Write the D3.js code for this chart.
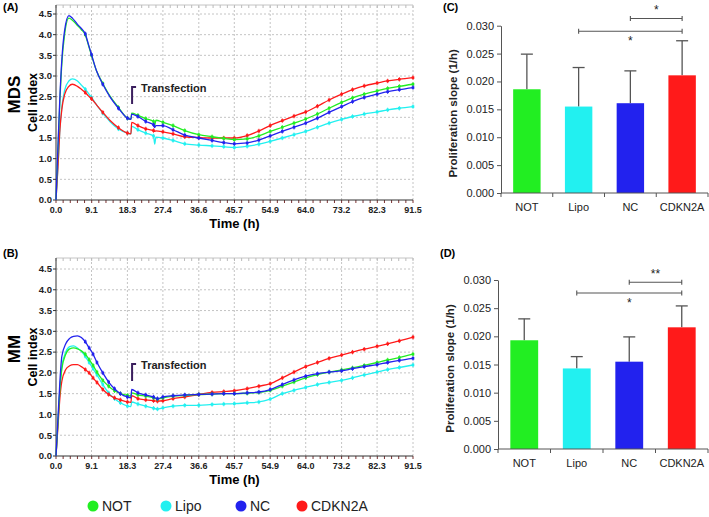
<!DOCTYPE html>
<html><head><meta charset="utf-8">
<script src="https://cdn.jsdelivr.net/npm/d3@7"></script>
<style>body{margin:0;background:#fff}svg{display:block}text{font-family:"Liberation Sans",Arial,sans-serif}</style>
</head><body>
<svg id="c" width="709" height="517"></svg>
<script>
// ---------- DATA ----------
const seriesNames = ["NOT","Lipo","NC","CDKN2A"];
const seriesColors = ["#22ee22","#22f0f0","#2222ee","#ff1a1a"];
const xTickLabels = ["0.0","9.1","18.3","27.4","36.6","45.7","54.9","64.0","73.2","82.3","91.5"];
const yTickLabels = ["0.0","0.5","1.0","1.5","2.0","2.5","3.0","3.5","4.0","4.5"];

// Panel A (MDS) time points (h)
const timeA = [0,0.5,1,1.5,2.2,3.3,4.2,5.5,6.5,7.5,8.3,9.1,10.4,12,13.8,16,18.3,19.2,19.4,21,23,25,25.3,25.6,27.4,30,33,36.6,40,43,45.7,49,52,54.9,58,61,64,67,70,73.2,76,79,82.3,85,88,91.5];
const mdsNOT   = [0,1.2,2.4,3.3,4.0,4.4,4.35,4.22,4.12,4.0,3.75,3.5,3.12,2.82,2.52,2.24,1.98,1.95,2.1,2.05,1.97,1.9,1.8,1.93,1.88,1.8,1.68,1.58,1.53,1.49,1.46,1.48,1.55,1.66,1.76,1.86,1.96,2.08,2.22,2.36,2.47,2.56,2.64,2.7,2.75,2.8];
const mdsLipo  = [0,0.8,1.7,2.25,2.65,2.88,2.93,2.88,2.78,2.68,2.58,2.48,2.3,2.1,1.9,1.72,1.62,1.6,1.78,1.7,1.62,1.55,1.35,1.52,1.5,1.44,1.36,1.33,1.31,1.29,1.27,1.3,1.35,1.42,1.5,1.58,1.66,1.76,1.86,1.95,2.02,2.08,2.13,2.18,2.22,2.26];
const mdsNC    = [0,1.3,2.5,3.4,4.1,4.46,4.4,4.25,4.15,4.02,3.77,3.52,3.12,2.8,2.5,2.22,1.98,1.95,2.08,2.02,1.9,1.82,1.75,1.8,1.8,1.7,1.57,1.5,1.44,1.39,1.36,1.38,1.45,1.55,1.66,1.76,1.86,1.98,2.12,2.26,2.38,2.48,2.56,2.62,2.67,2.72];
const mdsCDKN2A= [0,0.8,1.7,2.2,2.55,2.75,2.8,2.75,2.68,2.6,2.52,2.45,2.3,2.12,1.93,1.75,1.62,1.6,1.88,1.8,1.72,1.68,1.66,1.67,1.65,1.6,1.53,1.51,1.5,1.5,1.5,1.56,1.67,1.8,1.92,2.03,2.13,2.27,2.42,2.56,2.67,2.76,2.83,2.88,2.92,2.96];

// Panel B (MM) time points (h)
const timeB = [0,0.5,1,1.5,2.5,3.5,4.5,5.5,6.5,7.5,8.5,9.5,10.5,12,13.5,15,16.5,18.3,19.2,19.4,21,23,25,26,27.4,30,33,36.6,40,43,45.7,49,52,54.9,58,61,64,67,70,73.2,76,79,82.3,85,88,91.5];
const mmNOT    = [0,0.8,1.6,2.1,2.45,2.58,2.6,2.58,2.53,2.45,2.32,2.18,2.02,1.82,1.68,1.57,1.5,1.46,1.44,1.52,1.47,1.44,1.4,1.37,1.4,1.44,1.46,1.48,1.49,1.5,1.5,1.51,1.53,1.58,1.68,1.78,1.88,1.96,2.02,2.07,2.12,2.18,2.25,2.31,2.37,2.45];
const mmLipo   = [0,0.8,1.6,2.15,2.5,2.63,2.65,2.6,2.52,2.4,2.25,2.1,1.95,1.72,1.52,1.38,1.28,1.2,1.19,1.3,1.25,1.2,1.15,1.13,1.16,1.2,1.22,1.22,1.24,1.25,1.26,1.28,1.3,1.37,1.5,1.58,1.65,1.72,1.77,1.82,1.88,1.95,2.02,2.08,2.13,2.19];
const mmNC     = [0,0.9,1.8,2.4,2.7,2.83,2.88,2.89,2.85,2.75,2.6,2.45,2.25,2.0,1.78,1.62,1.5,1.42,1.4,1.6,1.52,1.47,1.42,1.38,1.42,1.45,1.47,1.48,1.49,1.5,1.5,1.52,1.54,1.6,1.72,1.83,1.92,1.98,2.02,2.05,2.1,2.15,2.2,2.25,2.3,2.35];
const mmCDKN2A = [0,0.7,1.4,1.8,2.08,2.17,2.2,2.2,2.15,2.08,2.0,1.88,1.77,1.6,1.48,1.4,1.35,1.3,1.29,1.45,1.38,1.35,1.33,1.32,1.33,1.38,1.42,1.48,1.53,1.55,1.57,1.62,1.68,1.74,1.88,2.02,2.15,2.25,2.35,2.43,2.5,2.57,2.64,2.7,2.77,2.86];

const transfectionTime = 19.5;

// Bar panels
const barCats = ["NOT","Lipo","NC","CDKN2A"];
const barTicks = ["0.000","0.005","0.010","0.015","0.020","0.025","0.030"];
const slopeMDS    = [0.0186,0.0155,0.0161,0.0211];
const slopeMDSErr = [0.0063,0.0070,0.0058,0.0062];
const slopeMM     = [0.0193,0.0143,0.0155,0.0216];
const slopeMMErr  = [0.0038,0.0021,0.0044,0.0038];
// significance brackets: [fromCat, toCat, level, label, labelPos]
const sigMDS = [["NC","CDKN2A",0.0313,"*","above"],["Lipo","CDKN2A",0.0290,"*","below"]];
const sigMM  = [["NC","CDKN2A",0.0296,"**","above"],["Lipo","CDKN2A",0.0277,"*","below"]];

// ---------- DRAW ----------
const svg = d3.select("#c");

function linePanel(o){
  const g = svg.append("g");
  const x = d3.scaleLinear().domain([0,91.5]).range([o.x0,o.x1]);
  const y = d3.scaleLinear().domain([0,4.5]).range([o.y0,o.y45]);
  const xt = xTickLabels.map(Number);
  const yt = yTickLabels.map(Number);
  const top = o.top;
  // grid
  g.selectAll(".gh").data(yt.slice(1)).join("line")
    .attr("x1",o.x0).attr("x2",o.x1).attr("y1",d=>y(d)).attr("y2",d=>y(d))
    .attr("stroke","#c4c4c4").attr("stroke-dasharray","2,2");
  g.append("line").attr("x1",o.x0).attr("x2",o.x1).attr("y1",top).attr("y2",top).attr("stroke","#c4c4c4");
  g.selectAll(".gv").data(xt.slice(1)).join("line")
    .attr("x1",d=>x(d)).attr("x2",d=>x(d)).attr("y1",o.y0).attr("y2",top)
    .attr("stroke","#c4c4c4").attr("stroke-dasharray","2,2");
  // minor ticks top & bottom
  const minor = d3.range(0,91.5+0.01,9.15/5);
  g.selectAll(".mt").data(minor).join("line")
    .attr("x1",d=>x(d)).attr("x2",d=>x(d)).attr("y1",top).attr("y2",top+3).attr("stroke","#bbb");
  g.selectAll(".mb").data(minor).join("line")
    .attr("x1",d=>x(d)).attr("x2",d=>x(d)).attr("y1",o.y0).attr("y2",o.y0+3).attr("stroke","#7a3030");
  // axes
  g.append("line").attr("x1",o.x0).attr("x2",o.x1).attr("y1",o.y0).attr("y2",o.y0).attr("stroke","#333");
  g.append("line").attr("x1",o.x0).attr("x2",o.x0).attr("y1",o.y0).attr("y2",top).attr("stroke","#333");
  g.selectAll(".lt").data(yt).join("line")
    .attr("x1",o.x0-3).attr("x2",o.x0).attr("y1",d=>y(d)).attr("y2",d=>y(d)).attr("stroke","#333");
  g.selectAll(".yl").data(yTickLabels).join("text")
    .attr("x",o.x0-4).attr("y",d=>y(+d)+3.3).attr("text-anchor","end")
    .attr("font-size",9.5).attr("font-weight","bold").attr("fill","#222").text(d=>d);
  g.selectAll(".xl").data(xTickLabels).join("text")
    .attr("x",d=>x(+d)).attr("y",o.y0+13).attr("text-anchor","middle")
    .attr("font-size",9).attr("font-weight","bold").attr("fill","#222").text(d=>d);
  g.append("text").attr("x",(o.x0+o.x1)/2).attr("y",o.y0+28).attr("text-anchor","middle")
    .attr("font-size",13).attr("font-weight","bold").text("Time (h)");
  g.append("text").attr("transform",`translate(${o.x0-19},${(o.y0+top)/2}) rotate(-90)`)
    .attr("text-anchor","middle").attr("font-size",12.5).attr("font-weight","bold").text("Cell index");
  g.append("text").attr("transform",`translate(${o.x0-36},${(o.y0+top)/2 - 8}) rotate(-90)`)
    .attr("text-anchor","middle").attr("font-size",17).attr("font-weight","bold").text(o.name);
  g.append("text").attr("x",3).attr("y",o.labelY).attr("font-size",11).attr("font-weight","bold").text(o.panel);
  // lines
  const line = d3.line().x(d=>x(d[0])).y(d=>y(d[1])).curve(d3.curveMonotoneX);
  const order = [1,3,0,2];
  const skip = new Set([19.2,19.4,25.3,25.6,8.3,10.4,13.8]);
  order.forEach(i=>{
    const pts = o.time.map((t,k)=>[t,o.vals[i][k]]);
    g.append("path").datum(pts).attr("d",line).attr("fill","none")
      .attr("stroke",seriesColors[i]).attr("stroke-width",1.3);
    const mk = pts.filter(p=>p[0]>=7 && !skip.has(p[0]));
    g.selectAll(null).data(mk).join("rect")
      .attr("x",d=>x(d[0])-1.3).attr("y",d=>y(d[1])-1.3).attr("width",2.6).attr("height",2.6)
      .attr("fill",seriesColors[i]);
    g.selectAll(null).data(mk).join("line")
      .attr("x1",d=>x(d[0])).attr("x2",d=>x(d[0])).attr("y1",d=>y(d[1])-2.2).attr("y2",d=>y(d[1])+2.2)
      .attr("stroke",seriesColors[i]).attr("stroke-width",0.9);
  });
  // transfection marker
  const tx = x(transfectionTime);
  g.append("path").attr("d",`M${tx},${o.tfY+17}V${o.tfY}H${tx+4}`)
    .attr("fill","none").attr("stroke","#3b1f5e").attr("stroke-width",2);
  g.append("text").attr("x",tx+9).attr("y",o.tfY+5).attr("font-size",11).attr("font-weight","bold")
    .attr("fill","#222").text("Transfection");
}

linePanel({x0:56,x1:413,y0:200,y45:14,top:5,labelY:11,time:timeA,vals:[mdsNOT,mdsLipo,mdsNC,mdsCDKN2A],name:"MDS",panel:"(A)",tfY:87});
linePanel({x0:56,x1:413,y0:456,y45:269,top:258,labelY:257,time:timeB,vals:[mmNOT,mmLipo,mmNC,mmCDKN2A],name:"MM",panel:"(B)",tfY:364});

function barPanel(o){
  const g = svg.append("g");
  const x = d3.scaleBand().domain(barCats).range([o.x0,o.x1]).paddingInner(0.47).paddingOuter(0.235);
  const xb = d3.scaleBand().domain(barCats).range([o.x0,o.x1]);
  const y = d3.scaleLinear().domain([0,0.03]).range([o.y0,o.y30]);
  // error bars
  g.selectAll(".eb").data(barCats).join("line")
    .attr("x1",d=>x(d)+x.bandwidth()/2).attr("x2",d=>x(d)+x.bandwidth()/2)
    .attr("y1",(d,i)=>y(o.vals[i])).attr("y2",(d,i)=>y(o.vals[i]+o.err[i]))
    .attr("stroke","#555").attr("stroke-width",1.3);
  g.selectAll(".ec").data(barCats).join("line")
    .attr("x1",d=>x(d)+x.bandwidth()/2-6).attr("x2",d=>x(d)+x.bandwidth()/2+6)
    .attr("y1",(d,i)=>y(o.vals[i]+o.err[i])).attr("y2",(d,i)=>y(o.vals[i]+o.err[i]))
    .attr("stroke","#555").attr("stroke-width",1.3);
  g.selectAll(".b").data(barCats).join("rect")
    .attr("x",d=>x(d)).attr("width",x.bandwidth())
    .attr("y",(d,i)=>y(o.vals[i])).attr("height",(d,i)=>o.y0-y(o.vals[i]))
    .attr("fill",(d,i)=>seriesColors[i]);
  // axes
  const ya = d3.axisLeft(y).tickValues(barTicks.map(Number)).tickFormat((d,i)=>barTicks[i]).tickSize(4).tickSizeOuter(0);
  const ga = g.append("g").attr("transform",`translate(${o.x0},0)`).call(ya);
  ga.selectAll("text").attr("font-size",11).attr("fill","#222").attr("font-family","Liberation Sans, Arial");
  ga.selectAll("line,path").attr("stroke","#555");
  g.append("line").attr("x1",o.x0).attr("x2",o.x1).attr("y1",o.y0).attr("y2",o.y0).attr("stroke","#555");
  g.selectAll(".bt").data(barCats.concat(["end"])).join("line")
    .attr("x1",(d,i)=>o.x0+i*xb.bandwidth()).attr("x2",(d,i)=>o.x0+i*xb.bandwidth())
    .attr("y1",o.y0).attr("y2",o.y0+4).attr("stroke","#555");
  g.selectAll(".bl").data(barCats).join("text")
    .attr("x",d=>x(d)+x.bandwidth()/2).attr("y",o.y0+18).attr("text-anchor","middle")
    .attr("font-size",11).attr("fill","#222").text(d=>d);
  g.append("text").attr("transform",`translate(${o.x0-44},${(o.y0+o.y30)/2 + 4}) rotate(-90)`)
    .attr("text-anchor","middle").attr("font-size",11.5).attr("font-weight","bold").attr("fill","#222")
    .text("Proliferation slope (1/h)");
  g.append("text").attr("x",o.x0-58).attr("y",o.labelY).attr("font-size",11).attr("font-weight","bold").text(o.panel);
  // significance
  o.sig.forEach(s=>{
    const xa = x(s[0])+x.bandwidth()/2, xe = x(s[1])+x.bandwidth()/2, yy = y(s[2]);
    g.append("path").attr("d",`M${xa},${yy-2.5}V${yy+2.5}M${xa},${yy}H${xe}M${xe},${yy-2.5}V${yy+2.5}`)
      .attr("stroke","#555").attr("stroke-width",1.1).attr("fill","none");
    const mx = s[4]==="above" ? (xa+xe)/2 : x("NC")+x.bandwidth()/2;
    g.append("text").attr("x",mx).attr("y",s[4]==="above"? yy-4 : yy+14).attr("text-anchor","middle")
      .attr("font-size",12).attr("fill","#222").text(s[3]);
  });
}
barPanel({x0:501,x1:708,y0:193,y30:25.7,labelY:11,vals:slopeMDS,err:slopeMDSErr,sig:sigMDS,panel:"(C)"});
barPanel({x0:498,x1:708,y0:449,y30:280,labelY:257,vals:slopeMM,err:slopeMMErr,sig:sigMM,panel:"(D)"});

// legend
const lg = svg.append("g");
const legX = [93,166,241,302];
seriesNames.forEach((n,i)=>{
  lg.append("circle").attr("cx",legX[i]).attr("cy",506).attr("r",5.5).attr("fill",seriesColors[i]);
  lg.append("text").attr("x",legX[i]+9).attr("y",511).attr("font-size",14)
    .attr("font-family","Liberation Sans Narrow, Liberation Sans, Arial").attr("fill","#222").text(n);
});
</script>
</body></html>
